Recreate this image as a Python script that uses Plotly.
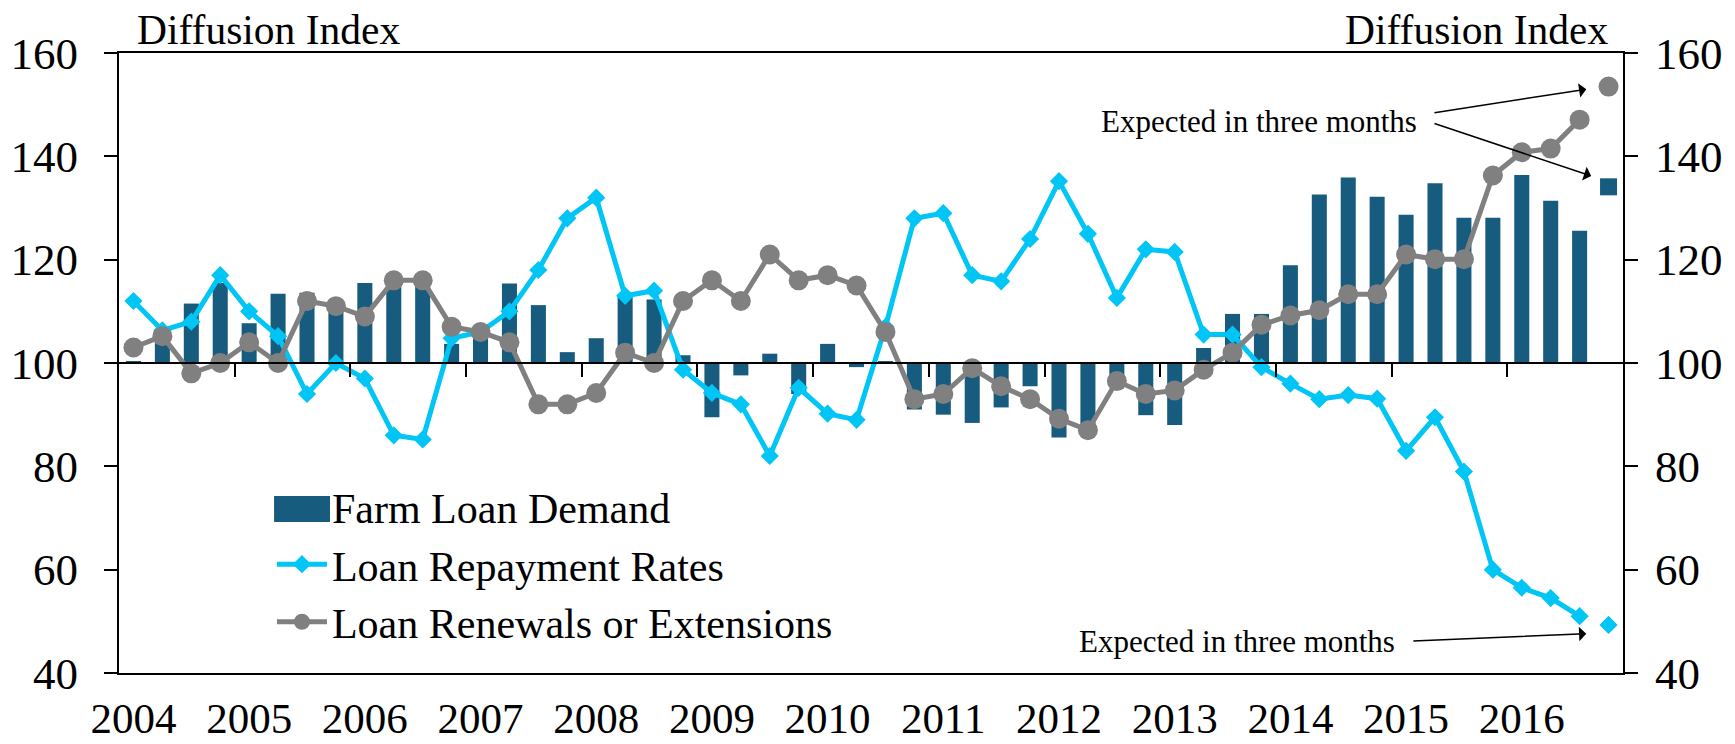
import plotly.graph_objects as go

years = [str(y) for y in range(2004, 2017)]
quarters_per_year = 4

# Farm loan demand (2004Q1 .. 2016Q3), expected value for 2016Q4
demand = [100.3, 105.0, 111.5, 115.5,
          107.7, 113.4, 113.6, 111.0,
          115.5, 116.0, 116.0, 103.7,
          106.0, 115.4, 111.2, 102.1,
          104.8, 113.2, 112.3, 101.5,
          89.5, 97.6, 101.8, 94.0,
          103.7, 99.2, 100.2, 91.0,
          90.0, 88.4, 91.4, 95.5,
          85.6, 86.5, 97.0, 89.9,
          88.0, 102.9, 109.5, 109.5,
          118.9, 132.6, 135.9, 132.2,
          128.7, 134.8, 128.1, 128.1,
          136.4, 131.4, 125.6]
demand_expected = 134.1

repayment = [112.0, 106.3, 108.0, 117.0,
             110.0, 105.2, 94.0, 100.0,
             97.0, 86.0, 85.2, 104.8,
             106.0, 110.0, 118.0, 128.0,
             132.0, 113.0, 114.0, 98.7,
             94.2, 92.0, 82.0, 95.2,
             90.2, 89.0, 107.0, 128.0,
             129.0, 117.0, 115.8, 124.0,
             135.2, 125.0, 112.6, 122.0,
             121.5, 105.5, 105.5, 99.2,
             96.0, 93.0, 93.8, 93.1,
             83.0, 89.5, 79.0, 60.0,
             56.5, 54.5, 51.0]
repayment_expected = 49.3

renewals = [103.0, 105.2, 98.0, 100.0,
            104.0, 100.0, 112.0, 111.0,
            109.0, 116.0, 116.0, 107.0,
            106.0, 104.0, 92.0, 92.0,
            94.2, 102.0, 100.0, 112.0,
            116.0, 112.0, 121.0, 116.0,
            117.0, 115.0, 106.0, 93.0,
            94.0, 99.0, 95.5, 93.0,
            89.2, 87.0, 96.5, 94.0,
            94.7, 98.7, 102.0, 107.4,
            109.2, 110.2, 113.3, 113.3,
            121.0, 120.1, 120.1, 136.3,
            140.8, 141.5, 147.1]
renewals_expected = 153.5

BASE = 100
n_cat = len(years) * quarters_per_year
x_obs = list(range(len(demand)))
x_exp = len(demand)

C_BAR = "#175C7F"
C_CYAN = "#00C5F5"
C_GRAY = "#808080"
FONT = "Liberation Serif"

fig = go.Figure()

# legend-only entry for the bar series (wide key)
fig.add_trace(go.Scatter(
    x=[None], y=[None], mode="lines", name="Farm Loan Demand",
    line=dict(color=C_BAR, width=10), xaxis="x", yaxis="y"))

fig.add_trace(go.Bar(
    x=x_obs, y=[v - BASE for v in demand], base=BASE,
    marker=dict(color=C_BAR, line=dict(width=0)),
    width=0.52, name="Farm Loan Demand", showlegend=False,
    xaxis="x", yaxis="y"))
fig.add_trace(go.Scatter(
    x=[x_exp], y=[demand_expected], mode="markers",
    marker=dict(symbol="square", size=17, color=C_BAR),
    showlegend=False, xaxis="x", yaxis="y"))

fig.add_trace(go.Scatter(
    x=x_obs, y=repayment, mode="lines+markers", name="Loan Repayment Rates",
    line=dict(color=C_CYAN, width=5),
    marker=dict(symbol="diamond", size=14, color=C_CYAN),
    xaxis="x2", yaxis="y2"))
fig.add_trace(go.Scatter(
    x=[x_exp], y=[repayment_expected], mode="markers",
    marker=dict(symbol="diamond", size=14, color=C_CYAN),
    showlegend=False, xaxis="x2", yaxis="y2"))

fig.add_trace(go.Scatter(
    x=x_obs, y=renewals, mode="lines+markers", name="Loan Renewals or Extensions",
    line=dict(color=C_GRAY, width=5),
    marker=dict(symbol="circle", size=20, color=C_GRAY),
    xaxis="x2", yaxis="y2"))
fig.add_trace(go.Scatter(
    x=[x_exp], y=[renewals_expected], mode="markers",
    marker=dict(symbol="circle", size=20, color=C_GRAY),
    showlegend=False, xaxis="x2", yaxis="y2"))

xr = [-0.5, n_cat - 0.5]
yr = [40, 160]
year_pos = [i * quarters_per_year for i in range(len(years))]
bound_pos = [i * quarters_per_year - 0.5 for i in range(1, len(years))]

# the page body adds an 8px offset; margins compensate for it
fig.update_layout(
    width=1735, height=744,
    margin=dict(l=111, r=120, t=45, b=79),
    plot_bgcolor="white", paper_bgcolor="white",
    font=dict(family=FONT, color="black"),
    bargap=0.48,
    showlegend=True,
    legend=dict(x=0.1017, y=0.323, xanchor="left", yanchor="top",
                font=dict(size=42, family=FONT), bgcolor="rgba(0,0,0,0)",
                tracegroupgap=0, itemwidth=50),
    xaxis=dict(range=xr, showgrid=False, zeroline=False, showline=True,
               mirror=True, linecolor="black", linewidth=2, ticks="",
               tickvals=year_pos, ticktext=years, automargin=False,
               tickfont=dict(size=43, family=FONT), ticklabelstandoff=6),
    xaxis2=dict(range=xr, overlaying="x", anchor="free", position=0.5,
                showgrid=False, zeroline=False, showline=True,
                linecolor="black", linewidth=2, ticks="outside", ticklen=13,
                tickwidth=2, tickcolor="black", automargin=False,
                tickvals=bound_pos, showticklabels=False),
    yaxis=dict(range=yr, dtick=20, showgrid=False, zeroline=False,
               showline=True, linecolor="black", linewidth=2,
               ticks="outside", ticklen=13, tickwidth=2, tickcolor="black",
               automargin=False,
               tickfont=dict(size=45, family=FONT), ticklabelstandoff=17),
    yaxis2=dict(range=yr, dtick=20, overlaying="y", side="right", anchor="x",
                showgrid=False, zeroline=False, showline=True,
                linecolor="black", linewidth=2, ticks="outside", ticklen=13,
                tickwidth=2, tickcolor="black", automargin=False,
                tickfont=dict(size=45, family=FONT), ticklabelstandoff=8),
)

# taller key box for the bar series in the legend
fig.add_shape(type="rect", xref="paper", yref="paper",
              x0=0.1031, x1=0.1403, y0=0.2435, y1=0.2855,
              fillcolor=C_BAR, line=dict(width=0), layer="above")

ann_font = dict(size=31, family=FONT, color="black")
title_font = dict(size=41.5, family=FONT, color="black")

fig.add_annotation(xref="paper", yref="paper", x=0.0106, y=1.037,
                   xanchor="left", yanchor="middle", text="Diffusion Index",
                   showarrow=False, font=title_font)
fig.add_annotation(xref="paper", yref="paper", x=0.9914, y=1.037,
                   xanchor="right", yanchor="middle", text="Diffusion Index",
                   showarrow=False, font=title_font)

# "Expected in three months" labels with arrows pointing to expected values
fig.add_annotation(xref="x", yref="y", x=x_exp - 6.55, y=146.8,
                   xanchor="right", yanchor="middle",
                   text="Expected in three months", showarrow=False, font=ann_font)
fig.add_annotation(xref="x", yref="y", x=x_exp - 7.3, y=46.1,
                   xanchor="right", yanchor="middle",
                   text="Expected in three months", showarrow=False, font=ann_font)

arrows = [
    (x_exp - 0.77, renewals_expected - 0.5, x_exp - 6.07, 148.4),
    (x_exp - 0.6, demand_expected + 2.1, x_exp - 6.07, 146.45),
    (x_exp - 0.77, repayment_expected - 1.7, x_exp - 6.8, 46.2),
]
for hx, hy, tx, ty in arrows:
    fig.add_annotation(xref="x", yref="y", x=hx, y=hy,
                       axref="x", ayref="y", ax=tx, ay=ty,
                       text="", showarrow=True, arrowhead=1, arrowsize=1.6,
                       arrowwidth=1.5, arrowcolor="black")

fig.write_html("out.html")
